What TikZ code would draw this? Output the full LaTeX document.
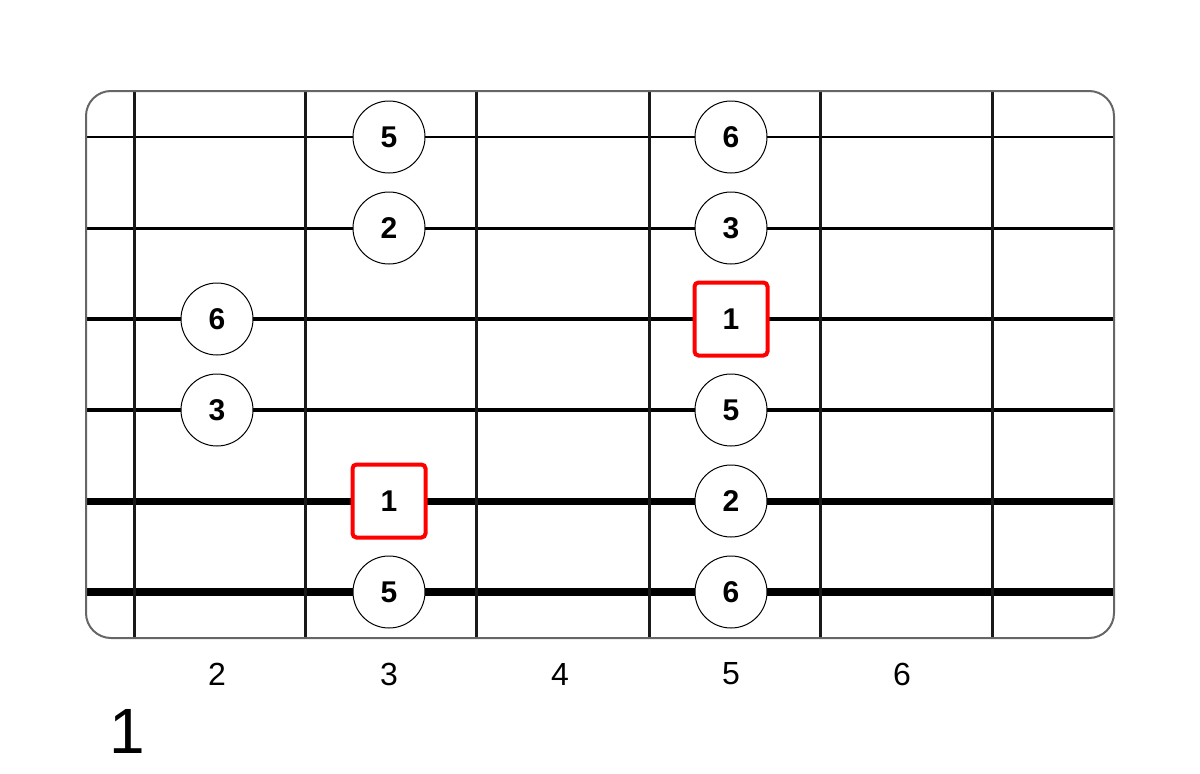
\documentclass[tikz,border=0pt]{standalone}
\usepackage{fontspec}
\setmainfont{Liberation Sans}
\begin{document}
\begin{tikzpicture}[x=1pt,y=-1pt,
  board/.style={draw=black!60,line width=2pt,rounded corners=25pt},
  fretline/.style={draw=black!90,line width=3pt},
  note/.style={circle,draw=black,line width=1pt,fill=white,minimum size=72pt,inner sep=0pt,font=\fontsize{30}{32}\selectfont\bfseries},
  root/.style={rectangle,rounded corners=4pt,draw=red,line width=4pt,fill=white,minimum size=73pt,inner sep=0pt,font=\fontsize{30}{32}\selectfont\bfseries},
  fretnum/.style={font=\fontsize{32}{34}\selectfont},
  title/.style={font=\fontsize{64}{68}\selectfont}]
\useasboundingbox (0,0) rectangle (1200,774);
% strings
\foreach \y/\w [count=\i] in {137/2,228/3,319/4,410/4.5,501/7,592/8}{
  \coordinate (sL\i) at (86,\y);
  \coordinate (sR\i) at (1114,\y);
  \draw[line width=\w pt] (sL\i) -- (sR\i);
}
% frets
\foreach \x [count=\i] in {134,305,476,649,820,992}{
  \coordinate (fT\i) at (\x,91);
  \coordinate (fB\i) at (\x,638);
  \draw[fretline] (fT\i) -- (fB\i);
}
% board outline
\draw[board] (86,91) rectangle (1114,638);
% notes
\node[note] (n1a) at (389,137) {5};
\node[note] (n1b) at (731,137) {6};
\node[note] (n2a) at (389,228) {2};
\node[note] (n2b) at (731,228) {3};
\node[note] (n3a) at (217,319) {6};
\node[root] (n3b) at (731,319) {1};
\node[note] (n4a) at (217,410) {3};
\node[note] (n4b) at (731,410) {5};
\node[root] (n5a) at (389,501) {1};
\node[note] (n5b) at (731,501) {2};
\node[note] (n6a) at (389,592) {5};
\node[note] (n6b) at (731,592) {6};
% fret numbers
\node[fretnum] (l2) at (217,674) {2};
\node[fretnum] (l3) at (389,674) {3};
\node[fretnum] (l4) at (560,674) {4};
\node[fretnum] (l5) at (731,674) {5};
\node[fretnum] (l6) at (902,674) {6};
\node[title] (t1) at (127,731) {1};
\end{tikzpicture}
\end{document}
